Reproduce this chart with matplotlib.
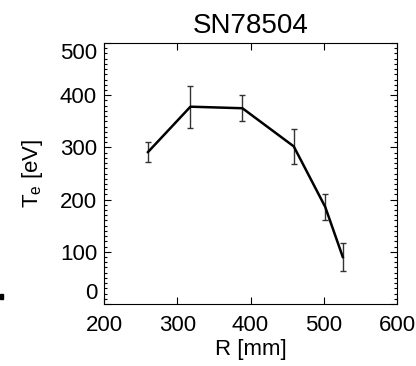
import numpy as np
import matplotlib.pyplot as plt
from matplotlib.ticker import MultipleLocator, FuncFormatter
from matplotlib.patches import Rectangle
import matplotlib.transforms as mtransforms

plt.rcParams['font.family'] = ['Liberation Sans', 'DejaVu Sans']

R = [260, 318, 389, 459, 502, 526]
Te = [291, 378, 375, 302, 186, 90]
Te_err = [19, 40, 25, 33, 25, 26]

xlim = (200, 600)
ylim = (0, 500)

fig = plt.figure(figsize=(4.16, 3.66), dpi=100)
ax = fig.add_axes([104 / 416, 1 - 304 / 366, 293 / 416, 261 / 366])

ax.errorbar(R, Te, yerr=Te_err, color='black', lw=1.8, ecolor='#333333',
            elinewidth=1.0, capsize=2, capthick=1.0)

ax.set_xlim(*xlim)
ax.set_ylim(*ylim)
ax.xaxis.set_major_locator(MultipleLocator(100))
ax.yaxis.set_major_locator(MultipleLocator(100))
ax.yaxis.set_minor_locator(MultipleLocator(10))
ax.tick_params(which='both', direction='in', top=True, right=True,
               labelsize=16, width=0.8)
ax.tick_params(axis='x', pad=8)
ax.tick_params(axis='y', pad=5)
ax.tick_params(which='major', length=5)
ax.tick_params(which='minor', length=2.5)
for s in ax.spines.values():
    s.set_linewidth(0.8)

# end labels on the y axis are kept inside the frame (drawn by hand)
ax.yaxis.set_major_formatter(FuncFormatter(
    lambda v, p: '' if v in ylim else f'{v:.0f}'))
trans = mtransforms.blended_transform_factory(ax.transAxes, ax.transData) + \
    mtransforms.ScaledTranslation(-5 / 72, 0, fig.dpi_scale_trans)
ax.text(0, ylim[0], f'{ylim[0]}', transform=trans, ha='right', va='bottom',
        fontsize=16)
ax.text(0, ylim[1], f'{ylim[1]}', transform=trans, ha='right', va='top',
        fontsize=16)

ax.set_xlabel('R [mm]', fontsize=16, labelpad=2)
ax.set_ylabel(r'T$_\mathregular{e}$ [eV]', fontsize=16, labelpad=11)
ax.set_title('SN78504', fontsize=20, pad=7)

# small black mark on the left edge
fig.patches.append(Rectangle((0, 1 - 299 / 366), 3 / 416, 5 / 366,
                             transform=fig.transFigure, color='black'))

fig.savefig('out.png', dpi=100)
